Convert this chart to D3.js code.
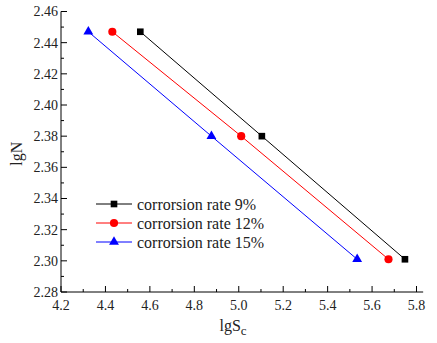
<!DOCTYPE html>
<html>
<head>
<meta charset="UTF-8">
<style>
  body { margin: 0; background: #fff; font-family: "Liberation Serif", "Times New Roman", serif; }
  svg text { font-family: "Liberation Serif", "Times New Roman", serif; }
</style>
</head>
<body>
<svg id="chart" width="437" height="343" style="font-family: 'Liberation Serif', 'Times New Roman', serif"></svg>
<script src="https://d3js.org/d3.v7.min.js"></script>
<script>
// data
const seriesNames = ["corrorsion rate 9%", "corrorsion rate 12%", "corrorsion rate 15%"];
const lgN = [2.447, 2.380, 2.301];
const lgSc9 = [4.557, 5.104, 5.748];
const lgSc12 = [4.431, 5.011, 5.674];
const lgSc15 = [4.323, 4.877, 5.533];
const xTicks = [4.2, 4.4, 4.6, 4.8, 5.0, 5.2, 5.4, 5.6, 5.8];
const yTicks = [2.28, 2.30, 2.32, 2.34, 2.36, 2.38, 2.40, 2.42, 2.44, 2.46];

const colors = ["#000000", "#ff0000", "#0000ff"];
const symbols = [d3.symbolSquare, d3.symbolCircle, d3.symbolTriangle];
const symSizes = [44, 52, 42];
const FONT = "Liberation Serif";

const series = [lgSc9, lgSc12, lgSc15].map((xs, i) => ({
    name: seriesNames[i],
    pts: xs.map((x, j) => ({ x: x, y: lgN[j] }))
}));

const svg = d3.select("#chart");
const x0 = 61, x1 = 416.5;   // 4.2 .. 5.8
const yTop = 11.5, yBot = 292; // 2.46 .. 2.28

const x = d3.scaleLinear().domain([4.2, 5.8]).range([x0, x1]);
const y = d3.scaleLinear().domain([2.28, 2.46]).range([yBot, yTop]);

// axes, ticks point inward
const minorX = d3.range(4.3, 5.85, 0.2);
const minorY = d3.range(2.29, 2.46, 0.02);

const gx = svg.append("g").attr("transform", `translate(0,${yBot})`);
gx.append("line").attr("x1", x0).attr("x2", x(5.83)).attr("y1", 0).attr("y2", 0)
    .attr("stroke", "#000").attr("stroke-width", 1);
gx.selectAll(".maj").data(xTicks).enter().append("line")
    .attr("x1", d => x(d)).attr("x2", d => x(d)).attr("y1", 0).attr("y2", -6)
    .attr("stroke", "#000");
gx.selectAll(".min").data(minorX).enter().append("line")
    .attr("x1", d => x(d)).attr("x2", d => x(d)).attr("y1", 0).attr("y2", -3)
    .attr("stroke", "#000");
gx.selectAll("text").data(xTicks).enter().append("text")
    .attr("x", d => x(d)).attr("y", 18)
    .attr("text-anchor", "middle")
    .attr("font-family", FONT).attr("font-size", 14).attr("fill", "#222")
    .text(d => d.toFixed(1));

const gy = svg.append("g").attr("transform", `translate(${x0},0)`);
gy.append("line").attr("x1", 0).attr("x2", 0).attr("y1", yTop).attr("y2", yBot)
    .attr("stroke", "#000").attr("stroke-width", 1);
gy.selectAll(".maj").data(yTicks).enter().append("line")
    .attr("x1", 0).attr("x2", 6).attr("y1", d => y(d)).attr("y2", d => y(d))
    .attr("stroke", "#000");
gy.selectAll(".min").data(minorY).enter().append("line")
    .attr("x1", 0).attr("x2", 3).attr("y1", d => y(d)).attr("y2", d => y(d))
    .attr("stroke", "#000");
gy.selectAll("text").data(yTicks).enter().append("text")
    .attr("x", -3).attr("y", d => y(d)).attr("dy", "0.35em")
    .attr("text-anchor", "end")
    .attr("font-family", FONT).attr("font-size", 14).attr("fill", "#222")
    .text(d => d.toFixed(2));

// axis titles
const xt = svg.append("text").attr("x", 233).attr("y", 331)
    .attr("text-anchor", "middle")
    .attr("font-family", FONT).attr("font-size", 16).attr("fill", "#222");
xt.append("tspan").text("lgS");
xt.append("tspan").attr("dy", 4).attr("font-size", 13).text("c");

svg.append("text")
    .attr("transform", `translate(22,${(yTop + yBot) / 2 + 2}) rotate(-90)`)
    .attr("text-anchor", "middle")
    .attr("font-family", FONT).attr("font-size", 16).attr("fill", "#222")
    .text("lgN");

// lines + markers
const line = d3.line().x(d => x(d.x)).y(d => y(d.y));
series.forEach((s, i) => {
    svg.append("path").datum(s.pts)
        .attr("d", line).attr("fill", "none")
        .attr("stroke", colors[i]).attr("stroke-width", 1);
    svg.selectAll(".m" + i).data(s.pts).enter().append("path")
        .attr("transform", d => `translate(${x(d.x)},${y(d.y)})`)
        .attr("d", d3.symbol().type(symbols[i]).size(symSizes[i]))
        .attr("fill", colors[i]);
});

// legend
const legend = svg.append("g").attr("transform", "translate(96,204)");
series.forEach((s, i) => {
    const row = legend.append("g").attr("transform", `translate(0,${i * 19})`);
    row.append("line").attr("x1", 0).attr("x2", 36).attr("y1", 0).attr("y2", 0)
        .attr("stroke", colors[i]).attr("stroke-width", 1);
    row.append("path").attr("transform", "translate(18,0)")
        .attr("d", d3.symbol().type(symbols[i]).size(symSizes[i]))
        .attr("fill", colors[i]);
    row.append("text").attr("x", 41).attr("y", 0).attr("dy", "0.35em")
        .attr("font-family", FONT).attr("font-size", 16).attr("fill", "#222")
        .text(s.name);
});
</script>
</body>
</html>
